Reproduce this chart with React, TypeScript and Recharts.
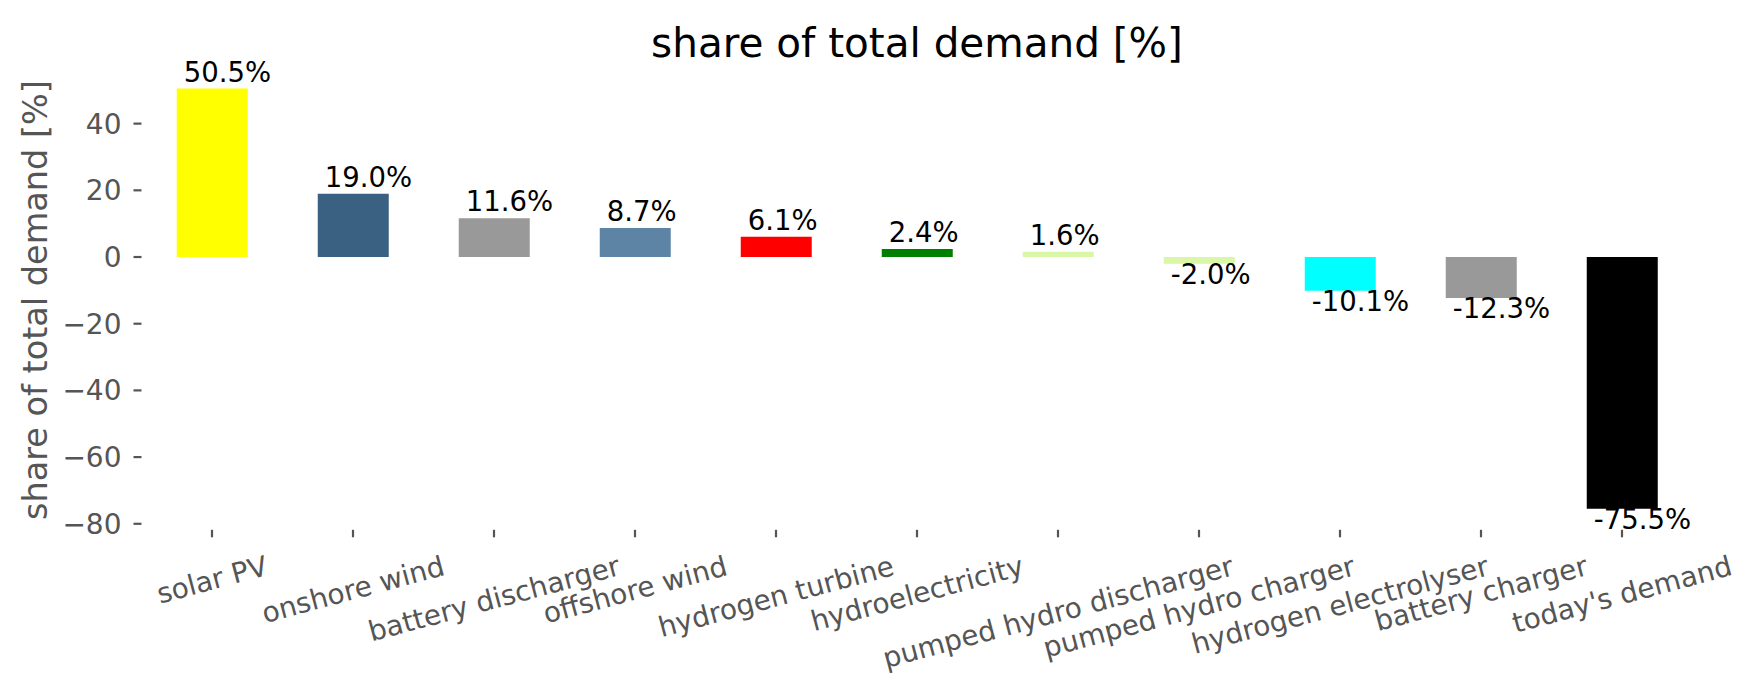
import { Bar, BarChart, Cell, LabelList, XAxis, YAxis } from 'recharts'

if (typeof document !== 'undefined') document.body.style.margin = '0'

const categories = [
  'solar PV',
  'onshore wind',
  'battery discharger',
  'offshore wind',
  'hydrogen turbine',
  'hydroelectricity',
  'pumped hydro discharger',
  'pumped hydro charger',
  'hydrogen electrolyser',
  'battery charger',
  "today's demand",
]
const shares = [50.5, 19.0, 11.6, 8.7, 6.1, 2.4, 1.6, -2.0, -10.1, -12.3, -75.5]
const barColors = [
  '#ffff00',
  '#3b6182',
  '#999999',
  '#5d84a5',
  '#ff0000',
  '#008000',
  '#d9f7a6',
  '#d9f7a6',
  '#00ffff',
  '#999999',
  '#000000',
]
const yTicks = [-80, -60, -40, -20, 0, 20, 40]

const data = categories.map((name, i) => ({ name, share: shares[i] }))

const FONT = '"DejaVu Sans", sans-serif'
const TICK_FS = 28
const GREY = '#555555'

// rough DejaVu Sans advance widths (em) for the tick labels
const widths: Record<string, number> = {
  a: 0.613, b: 0.635, c: 0.55, d: 0.635, e: 0.615, f: 0.352, g: 0.635, h: 0.634, i: 0.278,
  k: 0.579, l: 0.278, m: 0.974, n: 0.634, o: 0.612, p: 0.635, r: 0.411, s: 0.521, t: 0.392,
  u: 0.634, v: 0.592, w: 0.818, y: 0.592, ' ': 0.318, "'": 0.275, P: 0.603, V: 0.684,
}
const textWidth = (s: string, fs: number) => s.split('').reduce((acc, ch) => acc + (widths[ch] ?? 0.6), 0) * fs

const ROT = 15
const sin = Math.sin((ROT * Math.PI) / 180)
const cos = Math.cos((ROT * Math.PI) / 180)

function XTick(props: any) {
  const { x, y, payload } = props
  const label = String(payload.value)
  const w = textWidth(label, TICK_FS)
  const boxH = w * sin + 1.164 * TICK_FS * cos
  const cy = y + 10 + boxH / 2
  return (
    <text
      x={x}
      y={cy}
      dy="0.35em"
      textAnchor="middle"
      fill={GREY}
      fontSize={TICK_FS}
      fontFamily={FONT}
      transform={`rotate(${-ROT}, ${x}, ${cy})`}
    >
      {label}
    </text>
  )
}

function YTick(props: any) {
  const { x, y, payload } = props
  const v = Number(payload.value)
  const label = v < 0 ? `\u2212${Math.abs(v)}` : String(v)
  return (
    <text x={x} y={y} dy="0.36em" textAnchor="end" fill={GREY} fontSize={TICK_FS} fontFamily={FONT}>
      {label}
    </text>
  )
}

function BarValue(props: any) {
  const { x, y, height, value } = props
  const top = Math.min(y, y + height)
  const bottom = Math.max(y, y + height)
  const v = Number(value)
  const ty = v >= 0 ? top - 7 : bottom + 20
  return (
    <text x={x + 7} y={ty} fill="#000" fontSize={27.5} fontFamily={FONT}>
      {`${v.toFixed(1)}%`}
    </text>
  )
}

export default function App() {
  return (
    <div style={{ position: 'relative', width: 1753, height: 689, background: '#fff' }}>
      <BarChart
        width={1753}
        height={689}
        data={data}
        margin={{ top: 67.6, right: 60.5, left: 0, bottom: 0 }}
        barCategoryGap="25%"
      >
        <XAxis
          dataKey="name"
          height={159.2}
          interval={0}
          axisLine={false}
          tickLine={{ stroke: GREY, strokeWidth: 2.2 }}
          tickSize={7.5}
          tickMargin={2}
          tick={XTick}
        />
        <YAxis
          type="number"
          width={141.5}
          domain={[-81.8, 56.8]}
          ticks={yTicks}
          allowDataOverflow
          axisLine={false}
          tickLine={{ stroke: GREY, strokeWidth: 2.2 }}
          tickSize={8}
          tickMargin={12}
          tick={YTick}
        />
        <Bar dataKey="share" isAnimationActive={false}>
          {data.map((d, i) => (
            <Cell key={d.name} fill={barColors[i]} />
          ))}
          <LabelList dataKey="share" content={BarValue} />
        </Bar>
      </BarChart>
      <svg width={1753} height={689} style={{ position: 'absolute', left: 0, top: 0, pointerEvents: 'none' }}>
        <text x={917} y={57} textAnchor="middle" fill="#000" fontSize={40.5} fontFamily={FONT}>
          share of total demand [%]
        </text>
        <text
          x={35}
          y={300}
          dy="0.35em"
          textAnchor="middle"
          fill={GREY}
          fontSize={33.5}
          fontFamily={FONT}
          transform="rotate(-90, 35, 300)"
        >
          share of total demand [%]
        </text>
      </svg>
    </div>
  )
}
